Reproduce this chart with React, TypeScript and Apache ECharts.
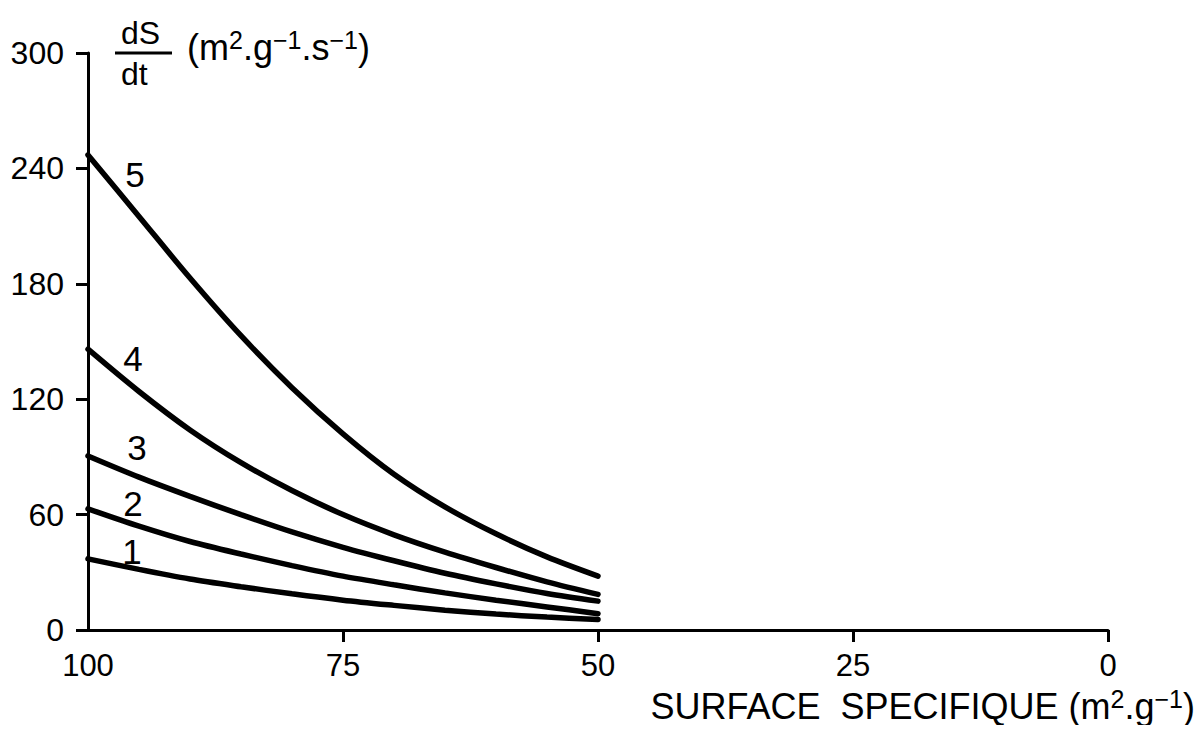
import React, { useEffect, useRef } from "react";
import * as echarts from "echarts";

const xTicks = [100, 75, 50, 25, 0];
const xTickMarks = [75, 50, 25, 0];
const yTicks = [0, 60, 120, 180, 240, 300];

const surface = [100, 95, 90, 85, 80, 75, 70, 65, 60, 55, 50];
const curve1 = [37, 31.5, 26.5, 22.5, 18.8, 15.5, 12.8, 10.3, 8.3, 6.7, 5.5];
const curve2 = [63, 54, 46, 39.5, 33.5, 28, 23.5, 19.3, 15.5, 12, 8.5];
const curve3 = [90.5, 79.5, 69.5, 60, 51, 43, 36, 29.5, 24, 19, 15];
const curve4 = [146, 124, 104, 87, 72.5, 60, 49.5, 40.5, 32.5, 25, 18.5];
const curve5 = [247, 215, 183, 153, 126, 102, 81, 64, 50, 38, 28];

const curveNames = ["1", "2", "3", "4", "5"];
const curveLabelPos: [number, number][] = [[95.7, 41], [95.6, 65.6], [95.2, 94.7], [95.6, 141], [95.4, 237]];

const FONT = "Liberation Sans";

export default function App() {
  const ref = useRef<HTMLDivElement>(null);
  useEffect(() => {
    if (!ref.current) return;
    const chart = echarts.init(ref.current, null, { renderer: "svg" });
    const curves = [curve1, curve2, curve3, curve4, curve5];
    const lineSeries = curves.map((c, i) => ({
      type: "line",
      name: curveNames[i],
      data: c.map((v, j) => [surface[j], v]),
      smooth: 0.3,
      showSymbol: false,
      lineStyle: { color: "#000", width: 5.5, cap: "round" },
      z: 3,
    }));
    const labelSeries = {
      type: "scatter",
      symbolSize: 0,
      itemStyle: { opacity: 1 },
      data: curveLabelPos.map((p, i) => ({ value: p, name: curveNames[i] })),
      label: {
        show: true,
        position: "inside",
        formatter: (p: any) => p.name,
        color: "#000",
        opacity: 1,
        fontFamily: FONT,
        fontSize: 35,
      },
      silent: true,
    };
    chart.setOption({
      animation: false,
      backgroundColor: "#fff",
      grid: { left: 88, right: 94, top: 53, bottom: 103, containLabel: false },
      xAxis: {
        type: "value",
        inverse: true,
        min: 0,
        max: 100,
        interval: 25,
        axisLine: { show: true, onZero: false, lineStyle: { color: "#000", width: 3 } },
        axisTick: { show: true, length: 12, lineStyle: { color: "#000", width: 3 }, customValues: xTickMarks },
        axisLabel: {
          color: "#000",
          fontFamily: FONT,
          fontSize: 31,
          margin: 20,
          customValues: xTicks,
          formatter: (v: number) => String(v),
        },
        splitLine: { show: false },
      },
      yAxis: {
        type: "value",
        min: 0,
        max: 300,
        interval: 60,
        axisLine: { show: true, onZero: false, lineStyle: { color: "#000", width: 3 } },
        axisTick: { show: true, length: 12, lineStyle: { color: "#000", width: 3 } },
        axisLabel: {
          color: "#000",
          fontFamily: FONT,
          fontSize: 32,
          margin: 24,
          customValues: yTicks,
        },
        splitLine: { show: false },
      },
      graphic: [
        { type: "text", left: 121, top: 17, style: { text: "dS", font: `32px ${FONT}`, fill: "#000" } },
        { type: "line", shape: { x1: 115, y1: 53, x2: 172, y2: 53 }, style: { stroke: "#000", lineWidth: 3 } },
        { type: "text", left: 121, top: 58, style: { text: "dt", font: `32px ${FONT}`, fill: "#000" } },
        {
          type: "text",
          left: 187,
          top: 27,
          style: {
            text: "(m{sup|2}.g{sup|−1}.s{sup|−1})",
            font: `36px ${FONT}`,
            fill: "#000",
            rich: {
              sup: { fontSize: 25, fontFamily: FONT, verticalAlign: "top", padding: [0, 0, 16, 0] },
            },
          },
        },
        {
          type: "text",
          right: 7,
          top: 686,
          style: {
            text: "SURFACE  SPECIFIQUE (m{sup|2}.g{sup|−1})",
            font: `36px ${FONT}`,
            fill: "#000",
            rich: {
              sup: { fontSize: 25, fontFamily: FONT, verticalAlign: "top", padding: [0, 0, 16, 0] },
            },
          },
        },
      ],
      series: [...lineSeries, labelSeries],
    });
    return () => chart.dispose();
  }, []);
  return <div ref={ref} style={{ width: 1202, height: 733, margin: -8 }} />;
}
